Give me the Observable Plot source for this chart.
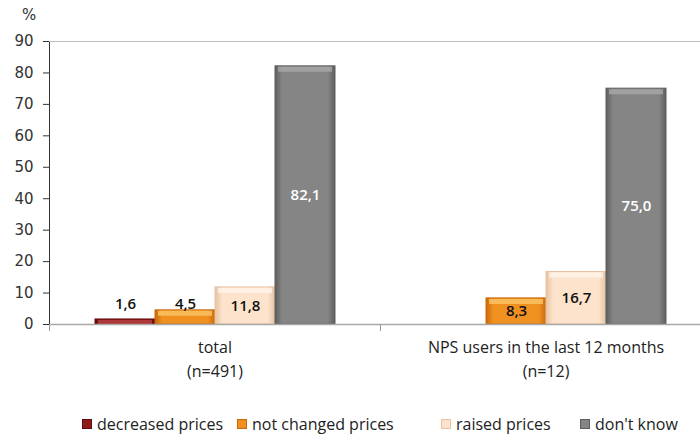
<!DOCTYPE html>
<html><head><meta charset="utf-8">
<script src="https://cdn.jsdelivr.net/npm/d3@7"></script>
<script src="https://cdn.jsdelivr.net/npm/@observablehq/plot@0.6"></script>
<style>
body{margin:0;background:#fff;overflow:hidden}
#wrap{position:relative;width:700px;height:437px;overflow:hidden}
#pct{position:absolute;left:22px;top:6px;font:15px "DejaVu Sans",sans-serif;color:#333}
#legend{position:absolute;left:82px;top:413px;display:flex;font:16px "Open Sans",sans-serif;color:#222;white-space:nowrap}
.item{display:flex;align-items:center}
.sw{width:8px;height:8px;margin-right:5px;border:1px solid #666}
</style>
</head><body>
<div id="wrap"><div id="chart"></div><div id="pct">%</div><div id="legend"></div></div>
<script>
const groupNames = ["total", "NPS users in the last 12 months"];
const groupN = ["(n=491)", "(n=12)"];
const series = ["decreased prices", "not changed prices", "raised prices", "don't know"];
const totalValues = [1.6, 4.5, 11.8, 82.1];
const npsValues = [0, 8.3, 16.7, 75.0];
const yTicks = [0, 10, 20, 30, 40, 50, 60, 70, 80, 90];
const baseColors = ["#8c1a1a", "#f09020", "#fde3cb", "#858585"];
const edgeColors = ["#640c0c", "#c96a0a", "#e6c3a3", "#5e5e5e"];
const lightColors = ["#b84040", "#fbc568", "#fff4ea", "#a8a8a8"];
const legendWidths = [155, 204, 139, 100];

const groupValues = [totalValues, npsValues];
const data = [];
groupNames.forEach((g, i) => series.forEach((s, j) => data.push({group: g, series: s, value: groupValues[i][j]})));
const shown = data.filter(d => d.value > 0);
const si = s => series.indexOf(s);
const fmt = v => v.toFixed(1).replace(".", ",");

const chart = Plot.plot({
  width: 700, height: 400,
  marginTop: 41, marginBottom: 76, marginLeft: 49, marginRight: -11,
  style: {fontFamily: "DejaVu Sans", fontSize: "15px", color: "#333", overflow: "visible"},
  fx: {domain: groupNames, paddingInner: 0, paddingOuter: 0},
  x: {domain: series, paddingInner: 0, paddingOuter: 0.758, axis: null},
  y: {domain: [0, 90], ticks: yTicks, tickSize: 6, tickPadding: 10, line: true, label: null},
  color: {domain: series, range: series.map((s, i) => `url(#grad${i})`)},
  marks: [
    Plot.ruleY([90], {stroke: "#c0c0c0"}),
    Plot.barY(data, {fx: "group", x: "series", y: "value", fill: "series",
      stroke: d => edgeColors[si(d.series)], strokeWidth: 1}),
    Plot.tickY(shown, {fx: "group", x: "series", y: "value", dy: 3, insetLeft: 3, insetRight: 3,
      stroke: d => lightColors[si(d.series)], strokeWidth: 5, strokeOpacity: 0.8}),
    Plot.ruleY([0], {stroke: "#a8a8a8", strokeWidth: 1.5}),
    Plot.frame({anchor: "left", insetTop: 283, insetBottom: -6, stroke: "#999"}),
    Plot.text(shown, {fx: "group", x: "series",
      y: d => d.value < 6 ? 6.5 : d.value / 2,
      text: d => fmt(d.value),
      fill: d => d.series === "don't know" ? "#fff" : "#111",
      fontWeight: 600, fontSize: 15, fontFamily: "Open Sans"}),
    Plot.axisFx({anchor: "bottom", tickSize: 0, tickPadding: 11, lineHeight: 1.5,
      fontSize: 16, fontFamily: "Open Sans", fill: "#222", label: null,
      tickFormat: g => g + "\n" + groupN[groupNames.indexOf(g)]})
  ]
});

const defs = d3.select(chart).insert("defs", ":first-child");
series.forEach((s, i) => {
  const g = defs.append("linearGradient").attr("id", `grad${i}`).attr("x1", 0).attr("x2", 1).attr("y1", 0).attr("y2", 0);
  [[0, edgeColors[i]], [0.12, baseColors[i]], [0.88, baseColors[i]], [1, edgeColors[i]]]
    .forEach(([o, c]) => g.append("stop").attr("offset", o).attr("stop-color", c));
});
document.getElementById("chart").appendChild(chart);

const legend = d3.select("#legend");
series.forEach((s, i) => {
  const it = legend.append("div").attr("class", "item").style("width", legendWidths[i] + "px");
  it.append("div").attr("class", "sw").style("background", baseColors[i]).style("border-color", edgeColors[i]);
  it.append("span").text(s);
});
</script>
</body></html>
